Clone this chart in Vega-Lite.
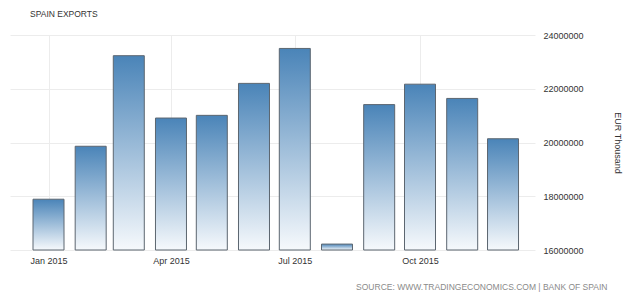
{
  "$schema": "https://vega.github.io/schema/vega-lite/v6.json",
  "width": 525,
  "height": 215,
  "autosize": {"type": "none"},
  "padding": {"left": 10, "top": 35, "right": 105, "bottom": 49},
  "background": "white",
  "config": {"view": {"stroke": null}, "font": "Liberation Sans"},
  "title": {
    "text": "SPAIN EXPORTS",
    "anchor": "start",
    "frame": "group",
    "orient": "top",
    "dx": 20,
    "offset": 9,
    "baseline": "middle",
    "fontSize": 8.5,
    "fontWeight": "normal",
    "color": "#333333",
    "font": "Liberation Sans"
  },
  "data": {
    "values": [
      {"month": "2015-01-01", "value": 17890000},
      {"month": "2015-02-01", "value": 19860000},
      {"month": "2015-03-01", "value": 23230000},
      {"month": "2015-04-01", "value": 20910000},
      {"month": "2015-05-01", "value": 21010000},
      {"month": "2015-06-01", "value": 22200000},
      {"month": "2015-07-01", "value": 23500000},
      {"month": "2015-08-01", "value": 16220000},
      {"month": "2015-09-01", "value": 21410000},
      {"month": "2015-10-01", "value": 22170000},
      {"month": "2015-11-01", "value": 21640000},
      {"month": "2015-12-01", "value": 20140000}
    ]
  },
  "mark": {
    "type": "bar",
    "size": 31,
    "stroke": "#5c6670",
    "strokeWidth": 1,
    "color": {
      "gradient": "linear",
      "x1": 0, "y1": 0, "x2": 0, "y2": 1,
      "stops": [
        {"offset": 0, "color": "#4a84b8"},
        {"offset": 1, "color": "#f6f9fc"}
      ]
    }
  },
  "encoding": {
    "x": {
      "field": "month",
      "type": "temporal",
      "scale": {
        "type": "utc",
        "padding": 0,
        "domain": [
          {"year": 2014, "month": 12, "date": 3, "hours": 17, "utc": true},
          {"year": 2015, "month": 12, "date": 24, "hours": 12, "utc": true}
        ]
      },
      "axis": {
        "values": [
          {"year": 2015, "month": 1, "date": 1, "utc": true},
          {"year": 2015, "month": 4, "date": 1, "utc": true},
          {"year": 2015, "month": 7, "date": 1, "utc": true},
          {"year": 2015, "month": 10, "date": 1, "utc": true}
        ],
        "format": "%b %Y",
        "grid": true,
        "gridColor": "#ececec",
        "domain": false,
        "ticks": false,
        "labelPadding": 6,
        "labelFontSize": 9,
        "labelColor": "#333333",
        "labelFont": "Liberation Sans",
        "title": "SOURCE: WWW.TRADINGECONOMICS.COM | BANK OF SPAIN",
        "titleFont": "Liberation Sans",
        "titleFontSize": 8.5,
        "titleFontWeight": "normal",
        "titleColor": "#8a8a8a",
        "titleAlign": "right",
        "titleAnchor": "end",
        "titleBaseline": "middle",
        "titleX": 597,
        "titleY": 36
      }
    },
    "y": {
      "field": "value",
      "type": "quantitative",
      "scale": {"domain": [16000000, 24000000], "nice": false, "zero": false},
      "axis": {
        "orient": "right",
        "values": [16000000, 18000000, 20000000, 22000000, 24000000],
        "format": "d",
        "grid": true,
        "gridColor": "#ececec",
        "domain": false,
        "ticks": false,
        "labelPadding": 8,
        "labelFontSize": 9,
        "labelColor": "#333333",
        "labelFont": "Liberation Sans",
        "title": "EUR Thousand",
        "titleFont": "Liberation Sans",
        "titleFontSize": 9,
        "titleFontWeight": "normal",
        "titleColor": "#333333",
        "titleAngle": 90,
        "titleAlign": "center",
        "titleBaseline": "middle",
        "titleX": 82,
        "titleY": 107.5
      }
    },
    "y2": {"datum": 16000000}
  }
}
